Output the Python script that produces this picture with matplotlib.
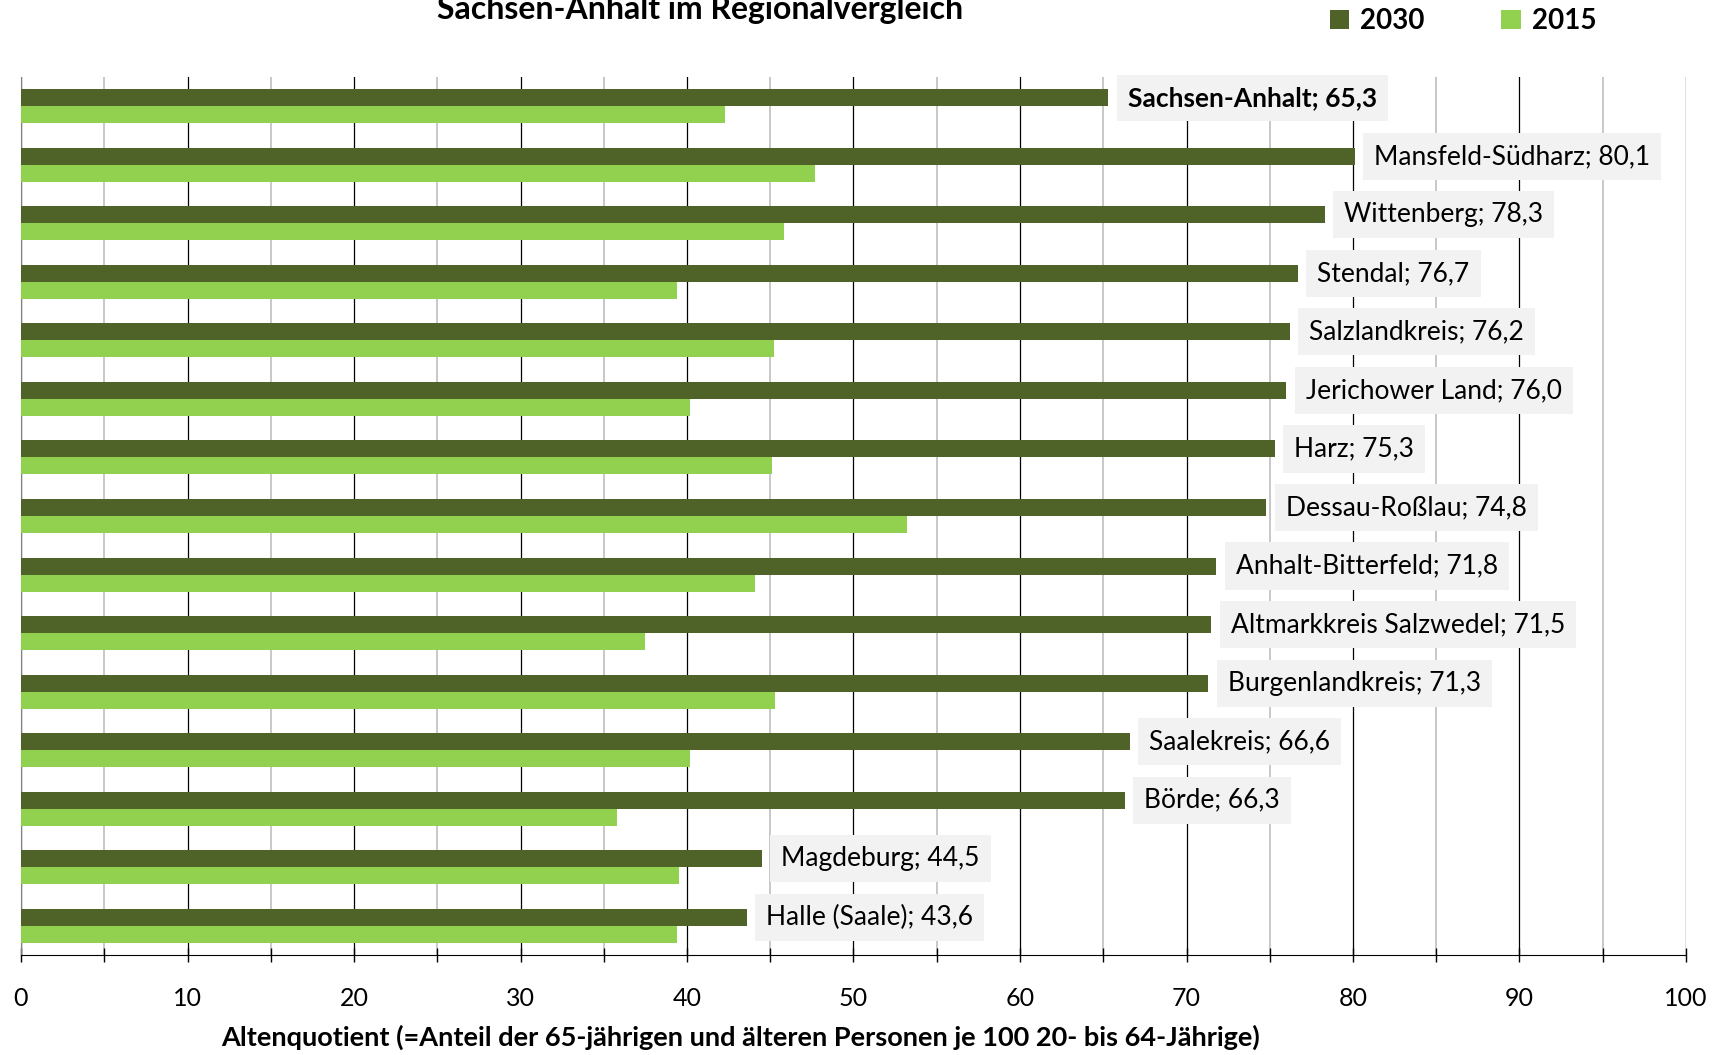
import matplotlib
matplotlib.use("Agg")
import matplotlib.pyplot as plt
import numpy as np

# data, top to bottom as in the chart
regions = ["Sachsen-Anhalt", "Mansfeld-Südharz", "Wittenberg", "Stendal", "Salzlandkreis",
           "Jerichower Land", "Harz", "Dessau-Roßlau", "Anhalt-Bitterfeld",
           "Altmarkkreis Salzwedel", "Burgenlandkreis", "Saalekreis", "Börde",
           "Magdeburg", "Halle (Saale)"]
val_2030 = [65.3, 80.1, 78.3, 76.7, 76.2, 76.0, 75.3, 74.8, 71.8, 71.5, 71.3, 66.6, 66.3, 44.5, 43.6]
val_2015 = [42.3, 47.7, 45.8, 39.4, 45.2, 40.2, 45.1, 53.2, 44.1, 37.5, 45.3, 40.2, 35.8, 39.5, 39.4]
x_ticks = list(range(0, 101, 10))

plt.rcParams['font.family'] = ['Lato', 'DejaVu Sans']

c_dark = '#4F6228'
c_light = '#92D050'

W, H = 1722., 1055.
fig = plt.figure(figsize=(17.22, 10.55), dpi=100)
ax = fig.add_axes([21 / W, 1 - 955 / H, 1665 / W, (955 - 77) / H])

n = len(regions)
y = np.arange(n)
h = 0.29
ax.barh(y - h / 2, val_2030, height=h, color=c_dark, label='2030', zorder=3)
ax.barh(y + h / 2, val_2015, height=h, color=c_light, label='2015', zorder=3)

ax.set_ylim(n - 0.5, -0.5)
ax.set_xlim(0, 100)
ax.set_yticks([])

ax.set_xticks(x_ticks)
ax.set_xticks(range(5, 100, 10), minor=True)
ax.tick_params(axis='x', which='both', direction='inout', length=10, width=1, color='black',
               labelsize=18, pad=18)
ax.grid(axis='x', which='major', color='black', linewidth=0.9, zorder=0)
ax.grid(axis='x', which='minor', color='#BFBFBF', linewidth=1.2, zorder=0)

for s in ['top', 'right']:
    ax.spines[s].set_visible(False)
ax.spines['left'].set_color('#808080')
ax.spines['bottom'].set_color('black')

# value labels in grey boxes next to the 2030 bars
for i in range(n):
    txt = "%s; %s" % (regions[i], ("%.1f" % val_2030[i]).replace('.', ','))
    ax.annotate(txt, xy=(val_2030[i], y[i] - h / 2), xytext=(14, 0), textcoords='offset points',
                va='center', ha='left', fontsize=19, fontweight='bold' if i == 0 else 'normal',
                bbox=dict(boxstyle='square,pad=0.42', facecolor='#F2F2F2', edgecolor='none'),
                zorder=5)

ax.set_xlabel('Altenquotient (=Anteil der 65-jährigen und älteren Personen je 100 20- bis 64-Jährige)',
              fontsize=19.5, fontweight='bold')
ax.xaxis.set_label_coords((741 - 21) / 1665., (955 - 1037) / 878.)
ax.xaxis.label.set_va('center')

fig.text(700 / W, 1 - 19 / H, 'Sachsen-Anhalt im Regionalvergleich', ha='center', va='baseline',
         fontsize=23, fontweight='bold')

fig.legend(loc='center', bbox_to_anchor=(0.8497, 0.980), ncol=2, frameon=False,
           prop={'size': 20, 'weight': 'bold'}, handlelength=0.7, handleheight=0.7,
           handletextpad=0.4, columnspacing=2.75)

fig.savefig('out.png', dpi=100)
